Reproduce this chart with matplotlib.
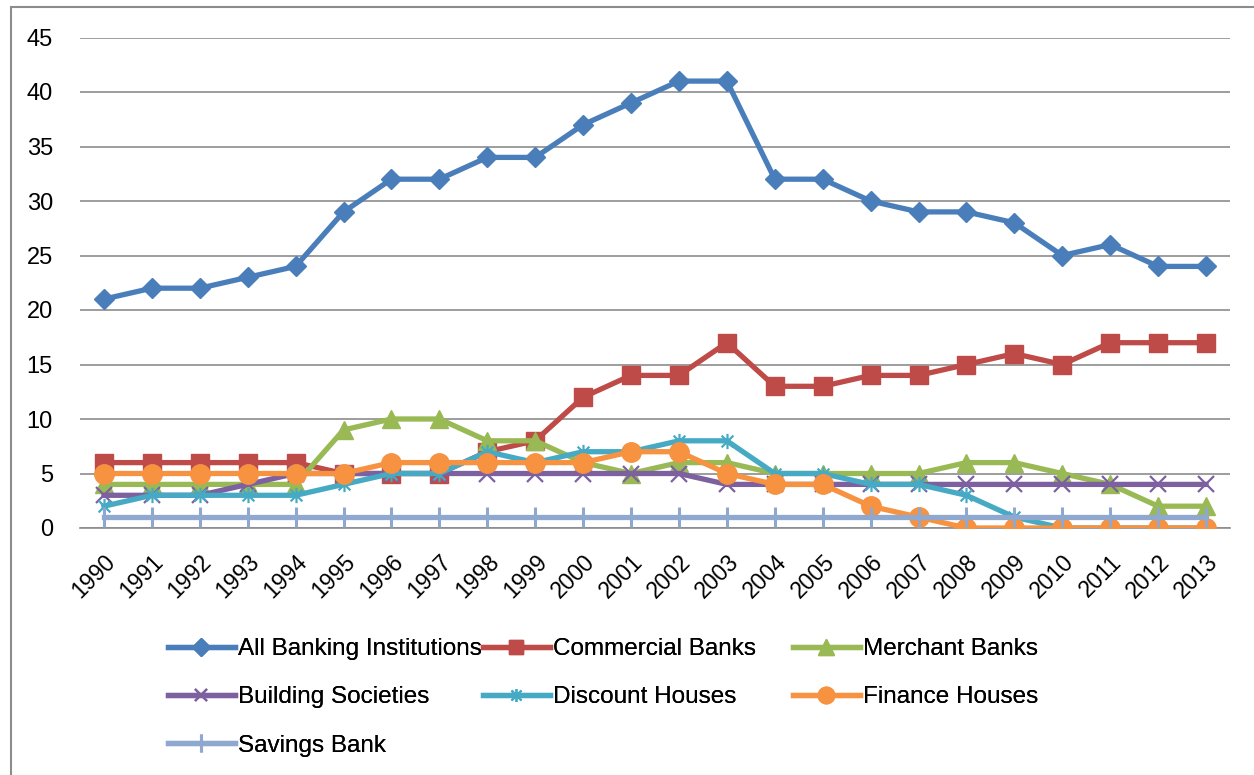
import matplotlib
matplotlib.use("Agg")
import matplotlib.pyplot as plt
from matplotlib.path import Path
from matplotlib.patches import Rectangle
import numpy as np

plt.rcParams['font.family'] = ['Liberation Sans', 'DejaVu Sans']

years = [str(y) for y in range(1990, 2014)]
all_banking = [21, 22, 22, 23, 24, 29, 32, 32, 34, 34, 37, 39, 41, 41, 32, 32, 30, 29, 29, 28, 25, 26, 24, 24]
commercial = [6, 6, 6, 6, 6, 5, 5, 5, 7, 8, 12, 14, 14, 17, 13, 13, 14, 14, 15, 16, 15, 17, 17, 17]
merchant = [4, 4, 4, 4, 4, 9, 10, 10, 8, 8, 6, 5, 6, 6, 5, 5, 5, 5, 6, 6, 5, 4, 2, 2]
building = [3, 3, 3, 4, 5, 5, 5, 5, 5, 5, 5, 5, 5, 4, 4, 4, 4, 4, 4, 4, 4, 4, 4, 4]
discount = [2, 3, 3, 3, 3, 4, 5, 5, 7, 6, 7, 7, 8, 8, 5, 5, 4, 4, 3, 1, 0, 0, 0, 0]
finance = [5, 5, 5, 5, 5, 5, 6, 6, 6, 6, 6, 7, 7, 5, 4, 4, 2, 1, 0, 0, 0, 0, 0, 0]
savings = [1] * 24

names = ["All Banking Institutions", "Commercial Banks", "Merchant Banks",
         "Building Societies", "Discount Houses", "Finance Houses", "Savings Bank"]

star = Path([(-1, -1), (1, 1), (-1, 1), (1, -1), (0, -1.3), (0, 1.3)],
            [Path.MOVETO, Path.LINETO, Path.MOVETO, Path.LINETO, Path.MOVETO, Path.LINETO])

styles = [
    (all_banking, '#4A7EBB', 'D', 10.5, None),
    (commercial, '#BE4B48', 's', 12.5, None),
    (merchant, '#98B954', '^', 13.5, None),
    (building, '#7D60A0', 'x', 11, 1.6),
    (discount, '#46AAC5', star, 11, 1.6),
    (finance, '#F69240', 'o', 14, None),
    (savings, '#8EA8D0', '|', 15, 2.2),
]

fig = plt.figure(figsize=(12.54, 7.75), dpi=100)
ax = fig.add_axes([80 / 1254, 1 - 528 / 775, (1230 - 80) / 1254, (528 - 37.5) / 775])

x = np.arange(len(years))
handles = []
for (vals, col, mk, ms, mew), name in zip(styles, names):
    kw = dict(color=col, lw=3.8, marker=mk, markersize=ms, label=name, zorder=3)
    if mew is not None:
        kw.update(markeredgewidth=mew, markeredgecolor=col)
    else:
        kw.update(markeredgecolor=col, markerfacecolor=col)
    h, = ax.plot(x, vals, **kw)
    handles.append(h)

ax.set_xlim(-0.5, len(years) - 0.5)
ax.set_ylim(0, 45)
ax.set_yticks(np.arange(0, 46, 5))
ax.yaxis.grid(True, color='#8C8C8C', lw=1.2)
ax.set_axisbelow(True)
for s in ['left', 'right', 'top']:
    ax.spines[s].set_visible(False)
ax.spines['bottom'].set_color('#8C8C8C')
ax.spines['bottom'].set_linewidth(1.2)
ax.tick_params(axis='y', length=0, pad=19.5, labelsize=17)
ax.tick_params(axis='x', length=0, pad=16, labelsize=16.5)
ax.set_xticks(x)
ax.set_xticklabels(years, rotation=45, ha='right', rotation_mode='anchor')

# legend: three columns placed like the reference
cols = [[0, 3, 6], [1, 4], [2, 5]]
col_x = [168, 483, 793]
for idx, cx in zip(cols, col_x):
    leg = fig.legend([handles[i] for i in idx], [names[i] for i in idx],
                     loc='upper left', bbox_to_anchor=(cx / 1254, 1 - 638 / 775),
                     frameon=False, fontsize=17.5, handlelength=2.75, handletextpad=0.15,
                     labelspacing=1.08, borderaxespad=0, borderpad=0, markerscale=0.85)
    fig.add_artist(leg)

fig.patches.append(Rectangle((11 / 1254, -0.1), 1.2, 1.1 - 7 / 775, transform=fig.transFigure,
                             fill=False, edgecolor='#8C8C8C', lw=1.5, clip_on=False))

fig.savefig("out.png", dpi=100)
